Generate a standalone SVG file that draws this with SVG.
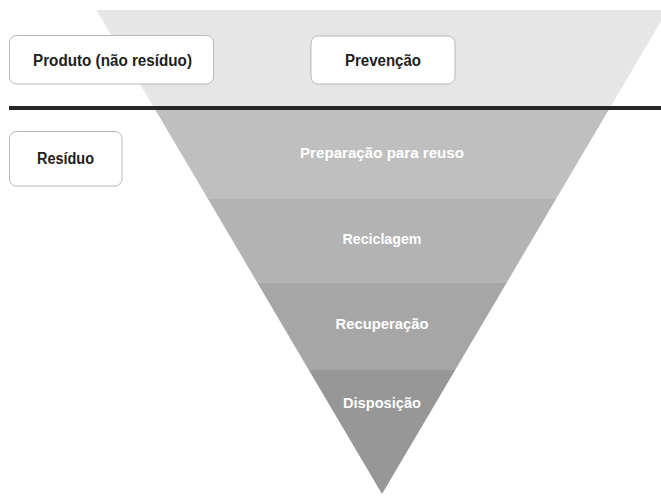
<svg xmlns="http://www.w3.org/2000/svg" width="661" height="496" viewBox="0 0 661 496">
<style>
.box{fill:#ffffff;stroke:#b8b8b8;stroke-width:1}
.bt{font-family:"Liberation Sans",Arial,sans-serif;font-weight:bold;font-size:16px;fill:#1e1e1e;text-anchor:middle}
.lt{font-family:"Liberation Sans",Arial,sans-serif;font-weight:bold;font-size:14px;fill:#ffffff;text-anchor:middle}
</style>
<rect width="661" height="496" fill="#ffffff"/>
<g id="layers">
<g id="prevencao-band"><polygon points="96.4,10 667.6,10 608.6,110 155.4,110" fill="#e6e6e6"/></g>
<g id="preparacao"><polygon points="155.4,110 608.6,110 556,199 208,199" fill="#bfbfbf"/>
<text class="lt" x="382" y="158" textLength="164" lengthAdjust="spacingAndGlyphs">Preparação para reuso</text></g>
<g id="reciclagem"><polygon points="208,199 556,199 506.5,283 257.5,283" fill="#b3b3b3"/>
<text class="lt" x="382" y="244" textLength="79" lengthAdjust="spacingAndGlyphs">Reciclagem</text></g>
<g id="recuperacao"><polygon points="257.5,283 506.5,283 455.2,370 308.8,370" fill="#a6a6a6"/>
<text class="lt" x="382" y="329" textLength="93" lengthAdjust="spacingAndGlyphs">Recuperação</text></g>
<g id="disposicao"><polygon points="308.8,370 455.2,370 382,494" fill="#979797"/>
<text class="lt" x="382" y="408" textLength="78" lengthAdjust="spacingAndGlyphs">Disposição</text></g>
</g>
<g id="connectors">
<line x1="9" y1="108" x2="661" y2="108" stroke="#262626" stroke-width="4"/>
</g>
<g id="produto">
<rect class="box" x="9.5" y="35.5" width="204" height="48.5" rx="7"/>
<text class="bt" x="112.5" y="66" textLength="159" lengthAdjust="spacingAndGlyphs">Produto (não resíduo)</text>
</g>
<g id="prevencao">
<rect class="box" x="311" y="36" width="144" height="48" rx="7"/>
<text class="bt" x="383" y="66" textLength="76" lengthAdjust="spacingAndGlyphs">Prevenção</text>
</g>
<g id="residuo">
<rect class="box" x="9.5" y="131.5" width="112.5" height="54.5" rx="7"/>
<text class="bt" x="65.5" y="164" textLength="57" lengthAdjust="spacingAndGlyphs">Resíduo</text>
</g>
</svg>
